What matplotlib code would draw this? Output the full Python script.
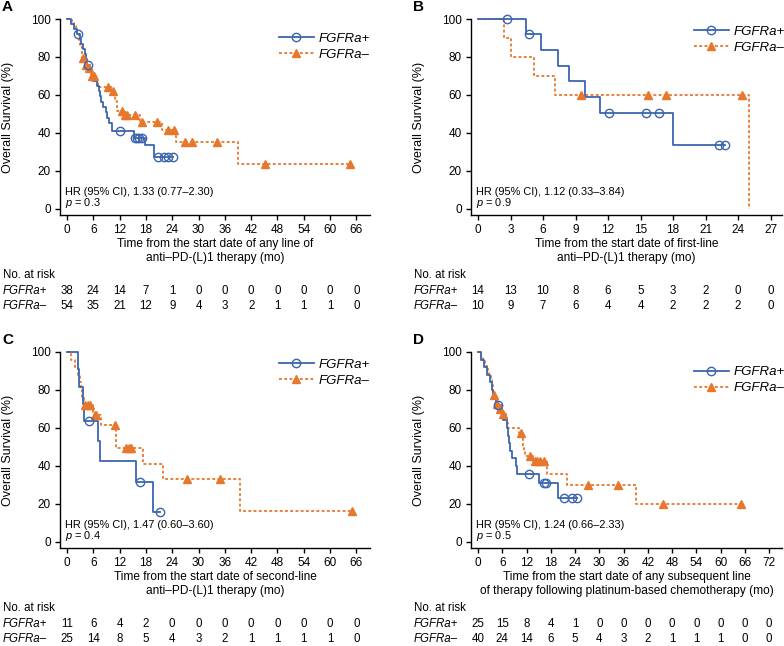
import numpy as np
import matplotlib
matplotlib.use("Agg")
import matplotlib.pyplot as plt
from matplotlib.lines import Line2D
from matplotlib.transforms import blended_transform_factory

plt.rcParams['font.family'] = ['Liberation Sans', 'DejaVu Sans']
plt.rcParams['mathtext.fontset'] = 'custom'
plt.rcParams['mathtext.rm'] = 'Liberation Sans'
plt.rcParams['mathtext.it'] = 'Liberation Sans:italic'

BLUE = '#3b66ae'
ORANGE = '#e8772e'

# ---- panel A: any line ----
a_pos_t = [0.8, 1.6, 2.2, 3.0, 3.3, 3.6, 4.0, 4.3, 4.6, 5.2, 5.6, 6.0, 6.9, 7.2, 7.5,
           7.8, 8.3, 8.8, 9.2, 9.6, 10.2, 15.3, 17.8, 19.8]
a_pos_s = [97.4, 94.7, 92.1, 89.4, 86.8, 84.1, 81.4, 78.7, 76.0, 73.2, 70.4, 67.6, 64.8,
           62.0, 59.2, 56.4, 53.6, 50.8, 48.0, 45.2, 41.2, 37.6, 33.8, 27.2]
a_pos_c = [2.6, 4.8, 12.1, 15.6, 16.0, 16.5, 17.0, 20.8, 22.1, 23.0, 24.2]
a_neg_t = [1.1, 1.5, 2.0, 2.3, 2.7, 3.0, 3.4, 4.1, 4.7, 5.3, 5.5, 6.6, 7.0, 10.2, 11.0,
           11.4, 13.0, 16.7, 21.6, 24.9, 39.0]
a_neg_s = [98.1, 96.3, 94.4, 92.6, 88.9, 85.2, 79.6, 75.8, 74.0, 72.1, 70.2, 66.3, 64.2,
           61.9, 56.8, 51.7, 49.5, 46.0, 41.6, 35.4, 23.7]
a_neg_c = [3.7, 4.3, 4.9, 5.6, 6.2, 9.4, 10.4, 12.5, 13.2, 13.6, 15.5, 17.0, 20.5, 23.1,
           24.4, 26.8, 28.6, 34.3, 45.2, 64.6]
a_ticks = list(range(0, 67, 6))
a_risk_pos = [38, 24, 14, 7, 1, 0, 0, 0, 0, 0, 0, 0]
a_risk_neg = [54, 35, 21, 12, 9, 4, 3, 2, 1, 1, 1, 0]

# ---- panel B: first line ----
b_pos_t = [4.4, 5.8, 7.4, 8.4, 9.9, 11.3, 18.0]
b_pos_s = [92.3, 83.5, 75.3, 67.2, 58.9, 50.4, 33.6]
b_pos_c = [2.7, 4.7, 12.1, 15.5, 16.7, 22.2, 22.8]
b_neg_t = [2.4, 3.0, 5.2, 7.1, 25.0]
b_neg_s = [90.0, 80.0, 70.0, 60.0, 0.0]
b_neg_c = [9.5, 15.7, 17.3, 24.4]
b_ticks = list(range(0, 28, 3))
b_risk_pos = [14, 13, 10, 8, 6, 5, 3, 2, 0, 0]
b_risk_neg = [10, 9, 7, 6, 4, 4, 2, 2, 2, 0]

# ---- panel C: second line ----
c_pos_t = [2.5, 2.8, 3.6, 3.8, 7.1, 7.6, 15.7, 19.7]
c_pos_s = [90.9, 81.8, 72.7, 63.6, 53.0, 42.4, 31.8, 15.9]
c_pos_c = [5.0, 16.7, 21.2]
c_neg_t = [1.0, 1.8, 2.5, 2.9, 3.2, 3.5, 3.8, 6.0, 7.8, 11.1, 17.4, 22.0, 39.4]
c_neg_s = [96.0, 92.0, 88.0, 84.0, 80.0, 76.0, 72.0, 67.0, 61.4, 49.4, 41.1, 32.9, 16.4]
c_neg_c = [4.2, 4.7, 5.3, 6.3, 6.7, 10.9, 13.4, 14.1, 14.5, 27.4, 34.8, 65.0]
c_ticks = list(range(0, 67, 6))
c_risk_pos = [11, 6, 4, 2, 0, 0, 0, 0, 0, 0, 0, 0]
c_risk_neg = [25, 14, 8, 5, 4, 3, 2, 1, 1, 1, 1, 0]

# ---- panel D: after platinum ----
d_pos_t = [0.7, 1.5, 2.3, 3.0, 3.4, 3.7, 4.4, 5.8, 6.2, 7.1, 7.4, 7.7, 7.9, 8.3, 9.3,
           9.7, 15.2, 19.9]
d_pos_s = [96, 92, 88, 84, 80, 76, 72, 68, 64, 60, 56, 52, 48, 44, 40, 36, 31.0, 23.2]
d_pos_c = [5.0, 12.5, 16.3, 16.7, 21.3, 23.3, 24.4]
d_neg_t = [0.8, 1.3, 1.8, 2.4, 2.8, 3.2, 3.4, 3.6, 3.8, 4.2, 4.5, 5.0, 5.9, 6.8, 7.2,
           7.5, 10.2, 10.9, 11.1, 11.2, 11.4, 11.6, 13.5, 17.0, 21.9, 39.2]
d_neg_s = [97.5, 95, 92.5, 90, 87.5, 85, 82.5, 80, 77.5, 75, 72.5, 70, 67.5, 65, 62.5,
           60, 57.5, 55, 52.5, 50, 47.5, 45, 42.5, 35.7, 29.8, 19.9]
d_neg_c = [3.9, 4.6, 5.4, 6.3, 10.6, 12.9, 14.0, 14.6, 15.4, 16.3, 27.2, 34.6, 45.7, 65.0]
d_ticks = list(range(0, 73, 6))
d_risk_pos = [25, 15, 8, 4, 1, 0, 0, 0, 0, 0, 0, 0, 0]
d_risk_neg = [40, 24, 14, 6, 5, 4, 3, 2, 1, 1, 1, 0, 0]

W, H = 784, 646
fig = plt.figure(figsize=(W / 100, H / 100), dpi=100)


def km(ax, t, s, cens, color, ls, marker, mfc):
    x = np.r_[0, t]
    y = np.r_[100, s]
    end = max(x[-1], max(cens))
    ax.step(np.r_[x, end], np.r_[y, y[-1]], where='post', color=color, ls=ls,
            lw=1.3, clip_on=False, zorder=3)
    idx = np.searchsorted(x, cens, side='right') - 1
    ax.plot(cens, y[idx], ls='none', marker=marker, ms=6 if marker == 'o' else 5.5,
            mfc=mfc, mec=color, mew=1.0, color=color, clip_on=False, zorder=4)


def panel(rect, letter, xmax_lim, xmin_lim, ticks, curves, risk, xlabel, hr, p, leg_y,
          leg_x):
    l, t, r, b = rect
    h = b - t
    ax = fig.add_axes([l / W, 1 - b / H, (r - l) / W, h / H])
    (pt, ps, pc), (nt, ns, nc) = curves
    km(ax, nt, ns, nc, ORANGE, (0, (1.6, 1.3)), '^', ORANGE)
    km(ax, pt, ps, pc, BLUE, '-', 'o', 'none')
    ax.set_xlim(xmin_lim, xmax_lim)
    ax.set_ylim(-3.2, 100)
    ax.set_xticks(ticks)
    ax.set_yticks(range(0, 101, 20))
    for sp in ['top', 'right']:
        ax.spines[sp].set_visible(False)
    for sp in ['left', 'bottom']:
        ax.spines[sp].set_linewidth(1.0)
    ax.tick_params(labelsize=8.5, length=3.6, width=1.0, pad=3)
    ax.set_ylabel('Overall Survival (%)', fontsize=9)
    ax.yaxis.set_label_coords(-0.148, 0.5)

    ax.text(0.5, -36 / h, xlabel, transform=ax.transAxes, ha='center', va='center',
            fontsize=8.6, linespacing=1.2)
    ax.text(0.015, 23.5 / h, hr, transform=ax.transAxes, fontsize=7.9, va='center')
    ax.text(0.015, 12 / h, r'$p$ = ' + p, transform=ax.transAxes, fontsize=7.9,
            va='center')

    # risk table
    fig.text((l - 57) / W, 1 - (b + 60) / H, 'No. at risk', fontsize=8.3, va='center')
    fig.text((l - 57) / W, 1 - (b + 76) / H, 'FGFRa+', fontsize=8.3, va='center',
             style='italic')
    fig.text((l - 57) / W, 1 - (b + 91) / H, 'FGFRa–', fontsize=8.3, va='center',
             style='italic')
    tr = blended_transform_factory(ax.transData, ax.transAxes)
    for xv, rp, rn in zip(ticks, risk[0], risk[1]):
        ax.text(xv, -76 / h, str(rp), transform=tr, ha='center', va='center', fontsize=8.3)
        ax.text(xv, -91 / h, str(rn), transform=tr, ha='center', va='center', fontsize=8.3)

    fig.text((l - 58) / W, 1 - (t - 12) / H, letter, fontsize=11, fontweight='bold',
             va='center', ha='left')
    handles = [Line2D([], [], color=BLUE, lw=1.3, marker='o', mfc='none', ms=6),
               Line2D([], [], color=ORANGE, lw=1.3, ls=(0, (1.6, 1.3)), marker='^', ms=5.5)]
    ax.legend(handles, ['FGFRa+', 'FGFRa–'], loc='upper right',
              bbox_to_anchor=(leg_x, 1 - leg_y / h), frameon=False, borderaxespad=0,
              borderpad=0, handlelength=2.7, handletextpad=0.35, labelspacing=0.3,
              prop={'style': 'italic', 'size': 9.5})
    return ax


panel((60, 19, 370, 215), 'A', 69.1, -1.6, a_ticks,
      ((a_pos_t, a_pos_s, a_pos_c), (a_neg_t, a_neg_s, a_neg_c)),
      (a_risk_pos, a_risk_neg),
      'Time from the start date of any line of\nanti–PD-(L)1 therapy (mo)',
      'HR (95% CI), 1.33 (0.77–2.30)', '0.3', 13.5, 1.0)
panel((471, 19, 782, 215), 'B', 28.05, -0.65, b_ticks,
      ((b_pos_t, b_pos_s, b_pos_c), (b_neg_t, b_neg_s, b_neg_c)),
      (b_risk_pos, b_risk_neg),
      'Time from the start date of first-line\nanti–PD-(L)1 therapy (mo)',
      'HR (95% CI), 1.12 (0.33–3.84)', '0.9', 6.5, 1.01)
panel((60, 352, 370, 548), 'C', 69.1, -1.6, c_ticks,
      ((c_pos_t, c_pos_s, c_pos_c), (c_neg_t, c_neg_s, c_neg_c)),
      (c_risk_pos, c_risk_neg),
      'Time from the start date of second-line\nanti–PD-(L)1 therapy (mo)',
      'HR (95% CI), 1.47 (0.60–3.60)', '0.4', 6.5, 1.0)
panel((471, 352, 782, 548), 'D', 75.2, -1.74, d_ticks,
      ((d_pos_t, d_pos_s, d_pos_c), (d_neg_t, d_neg_s, d_neg_c)),
      (d_risk_pos, d_risk_neg),
      'Time from the start date of any subsequent line\nof therapy following platinum-based chemotherapy (mo)',
      'HR (95% CI), 1.24 (0.66–2.33)', '0.5', 14.0, 1.01)

fig.savefig('out.png', dpi=100)
